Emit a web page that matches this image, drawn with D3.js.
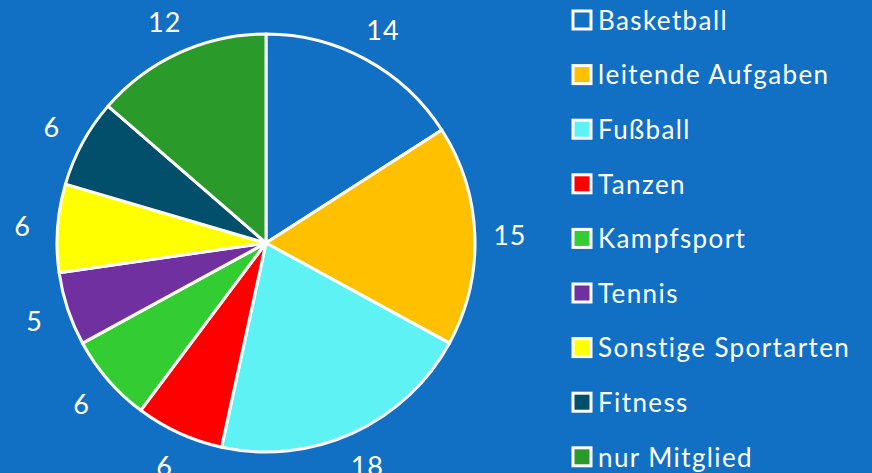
<!DOCTYPE html>
<html>
<head>
<meta charset="utf-8">
<script src="https://cdn.jsdelivr.net/npm/d3@7"></script>
<style>
  body { margin: 0; background: #1170c4; }
  text { font-family: Lato, "Open Sans", sans-serif; fill: #fff; }
</style>
</head>
<body>
<div id="chart"></div>
<script>
// Data
const categories = ["Basketball", "leitende Aufgaben", "Fußball", "Tanzen", "Kampfsport",
  "Tennis", "Sonstige Sportarten", "Fitness", "nur Mitglied"];
const values = [14, 15, 18, 6, 6, 5, 6, 6, 12];
const colors = ["#1170c4", "#ffc000", "#5ef2f5", "#ff0000", "#33cc33",
  "#7030a0", "#ffff00", "#024f6b", "#2a9a2a"];

const width = 872, height = 473;
const cx = 266, cy = 243, radius = 209;

const svg = d3.select("#chart")
  .append("svg")
    .attr("width", width)
    .attr("height", height);

svg.append("rect")
  .attr("width", width)
  .attr("height", height)
  .attr("fill", "#1170c4");

const data = categories.map((c, i) => ({ name: c, value: values[i], color: colors[i] }));

const pie = d3.pie().value(d => d.value).sort(null);
const arc = d3.arc().innerRadius(0).outerRadius(radius);
const labelArc = d3.arc().innerRadius(244).outerRadius(244);

const g = svg.append("g")
  .attr("transform", `translate(${cx},${cy})`);

// Slices
g.selectAll("path")
  .data(pie(data))
  .join("path")
  .attr("d", arc)
  .attr("fill", d => d.data.color)
  .attr("stroke", "#fff")
  .attr("stroke-width", 3)
  .attr("stroke-linejoin", "round");

// Value labels
g.selectAll("text.val")
  .data(pie(data))
  .join("text")
  .attr("class", "val")
  .attr("transform", d => `translate(${labelArc.centroid(d)})`)
  .attr("text-anchor", "middle")
  .attr("dy", "0.4em")
  .style("font-size", "27px")
  .style("letter-spacing", "1px")
  .text(d => d.data.value);

// Legend
const legend = svg.append("g")
  .attr("transform", "translate(573,20)");

const row = legend.selectAll("g")
  .data(data)
  .join("g")
  .attr("transform", (d, i) => `translate(0,${i * 54.6})`);

row.append("rect")
  .attr("x", 0)
  .attr("y", -9)
  .attr("width", 18)
  .attr("height", 18)
  .attr("fill", d => d.color)
  .attr("stroke", "#fff")
  .attr("stroke-width", 3);

row.append("text")
  .attr("x", 25)
  .attr("dy", "0.38em")
  .style("font-size", "26px")
  .style("letter-spacing", "1.4px")
  .text(d => d.name);
</script>
</body>
</html>
